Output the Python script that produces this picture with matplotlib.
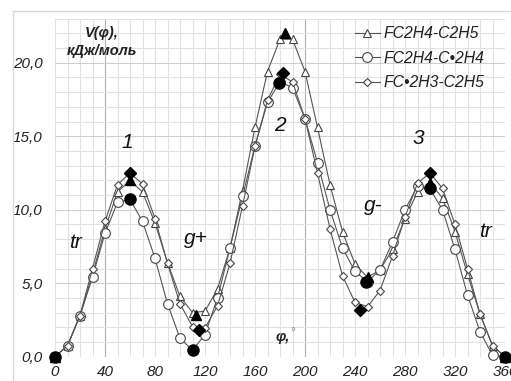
import matplotlib
matplotlib.use("Agg")
import matplotlib.pyplot as plt
from matplotlib.lines import Line2D

plt.rcParams["font.family"] = ["Liberation Sans", "DejaVu Sans"]

# torsion angle, degrees
phi = list(range(0, 361, 10))

# V(phi), kJ/mol
v_c2h5 = [0.0, 0.75, 2.8, 5.6, 8.7, 11.2, 12.0, 11.2, 9.1, 6.4, 4.1, 3.0, 3.1,
          4.6, 7.4, 11.3, 15.6, 19.4, 21.6, 21.6, 19.4, 15.6, 11.7, 8.5, 6.3,
          5.4, 5.9, 7.3, 9.4, 11.2, 11.8, 10.8, 8.5, 5.6, 2.9, 0.75, 0.0]
v_c2h4 = [0.0, 0.75, 2.8, 5.4, 8.4, 10.5, 10.7, 9.2, 6.7, 3.6, 1.25, 0.45, 1.5,
          4.0, 7.4, 10.9, 14.35, 17.3, 18.7, 18.3, 16.2, 13.2, 10.0, 7.4, 5.8,
          5.1, 5.9, 7.8, 10.0, 11.6, 11.4, 10.0, 7.3, 4.2, 1.7, 0.1, 0.0]
v_c2h3 = [0.0, 0.75, 2.8, 6.0, 9.2, 11.7, 12.5, 11.75, 9.4, 6.35, 3.6, 2.05,
          1.97, 3.45, 6.35, 10.25, 14.3, 17.45, 19.2, 18.7, 16.2, 12.5, 8.7,
          5.5, 3.7, 3.4, 4.5, 6.85, 9.5, 11.8, 12.5, 11.45, 9.0, 6.0, 2.9,
          0.75, 0.0]

# stationary points (filled markers)
ext_phi_c2h5 = [0, 60, 112.5, 184, 250, 300, 360]
ext_v_c2h5 = [0.0, 12.0, 2.85, 22.05, 5.45, 11.8, 0.0]
ext_phi_c2h4 = [0, 60, 110, 179, 249, 300, 360]
ext_v_c2h4 = [0.0, 10.7, 0.45, 18.6, 5.1, 11.45, 0.0]
ext_phi_c2h3 = [60, 115.5, 182.7, 244, 300]
ext_v_c2h3 = [12.5, 1.8, 19.3, 3.2, 12.5]

labels = ["FC2H4-C2H5", "FC2H4-C\u20222H4", "FC\u20222H3-C2H5"]

W, H = 511, 381
fig = plt.figure(figsize=(W / 100, H / 100), dpi=100)
fig.patch.set_facecolor("white")

# light outer frame of the chart area
fig.add_artist(Line2D([13 / W, 13 / W], [0, 1 - 11 / H], color="#d9d9d9", lw=1.0))
fig.add_artist(Line2D([13 / W, 1], [1 - 11 / H, 1 - 11 / H], color="#d9d9d9", lw=1.0))

ax = fig.add_axes([55 / W, 1 - 356.7 / H, 450 / W, (356.7 - 18.6) / H])
ax.set_xlim(0, 360)
ax.set_ylim(0, 23)

for s in ax.spines.values():
    s.set_visible(False)

# grid
for x in range(0, 361, 10):
    c = "#b0b0b0" if x in (40, 200) else "#e2e2e2"
    ax.axvline(x, color=c, lw=0.8, zorder=0)
for y in range(1, 24):
    c = "#cfcfcf" if y % 5 == 0 else "#e2e2e2"
    ax.axhline(y, color=c, lw=0.8, zorder=0)

ax.set_xticks(range(0, 361, 40))
ax.set_yticks([0, 5, 10, 15, 20])
ax.set_yticklabels([f"{v:.1f}".replace(".", ",") for v in [0, 5, 10, 15, 20]])
ax.tick_params(length=0, labelsize=11, colors="#222222")
ax.tick_params(axis="y", pad=9)
ax.tick_params(axis="x", pad=6)
for t in ax.get_xticklabels() + ax.get_yticklabels():
    t.set_fontstyle("italic")

line_kw = dict(color="#555555", lw=0.8, mfc="white", mec="#444444", mew=0.8,
               clip_on=False, zorder=3)
ax.plot(phi, v_c2h5, marker="^", ms=6.3, label=labels[0], **line_kw)
ax.plot(phi, v_c2h4, marker="o", ms=7, label=labels[1], **line_kw)
ax.plot(phi, v_c2h3, marker="D", ms=4.5, label=labels[2], **line_kw)

ax.plot(ext_phi_c2h5, ext_v_c2h5, "^", ms=7.5, color="black", clip_on=False, zorder=5)
ax.plot(ext_phi_c2h4, ext_v_c2h4, "o", ms=8, color="black", clip_on=False, zorder=5)
ax.plot(ext_phi_c2h3, ext_v_c2h3, "D", ms=5.8, color="black", clip_on=False, zorder=5)

leg = ax.legend(loc="upper right", bbox_to_anchor=(0.972, 1.0), frameon=False,
                handlelength=1.6, handletextpad=0.25, labelspacing=0.6,
                borderaxespad=0.1, prop={"style": "italic", "size": 11.3})
for t in leg.get_texts():
    t.set_color("#222222")

# conformation / barrier labels
txt = dict(fontstyle="italic", fontsize=15, color="#111111", ha="center", va="center")
ax.text(58, 14.6, "1", **txt)
ax.text(180, 15.7, "2", **txt)
ax.text(291, 14.85, "3", **txt)
ax.text(16, 7.8, "tr", **txt)
ax.text(113, 8.05, "g+", **txt)
ax.text(255, 10.3, "g-", **txt)
ax.text(344, 8.5, "tr", **txt)

ax.text(182, 1.36, "\u03c6,", fontsize=10.5, fontweight="bold", fontstyle="italic",
        ha="center", va="center", color="#222222")
ax.text(190, 1.6, "\u00b0", fontsize=9, ha="center", va="center", color="#888888")

fig.text(102 / W, 1 - 42 / H, "V(\u03c6),\n\u043a\u0414\u0436/\u043c\u043e\u043b\u044c",
         fontsize=10.5, fontweight="bold", fontstyle="italic", ha="center",
         va="center", linespacing=1.3, color="#222222")

fig.savefig("out.png", dpi=100)
